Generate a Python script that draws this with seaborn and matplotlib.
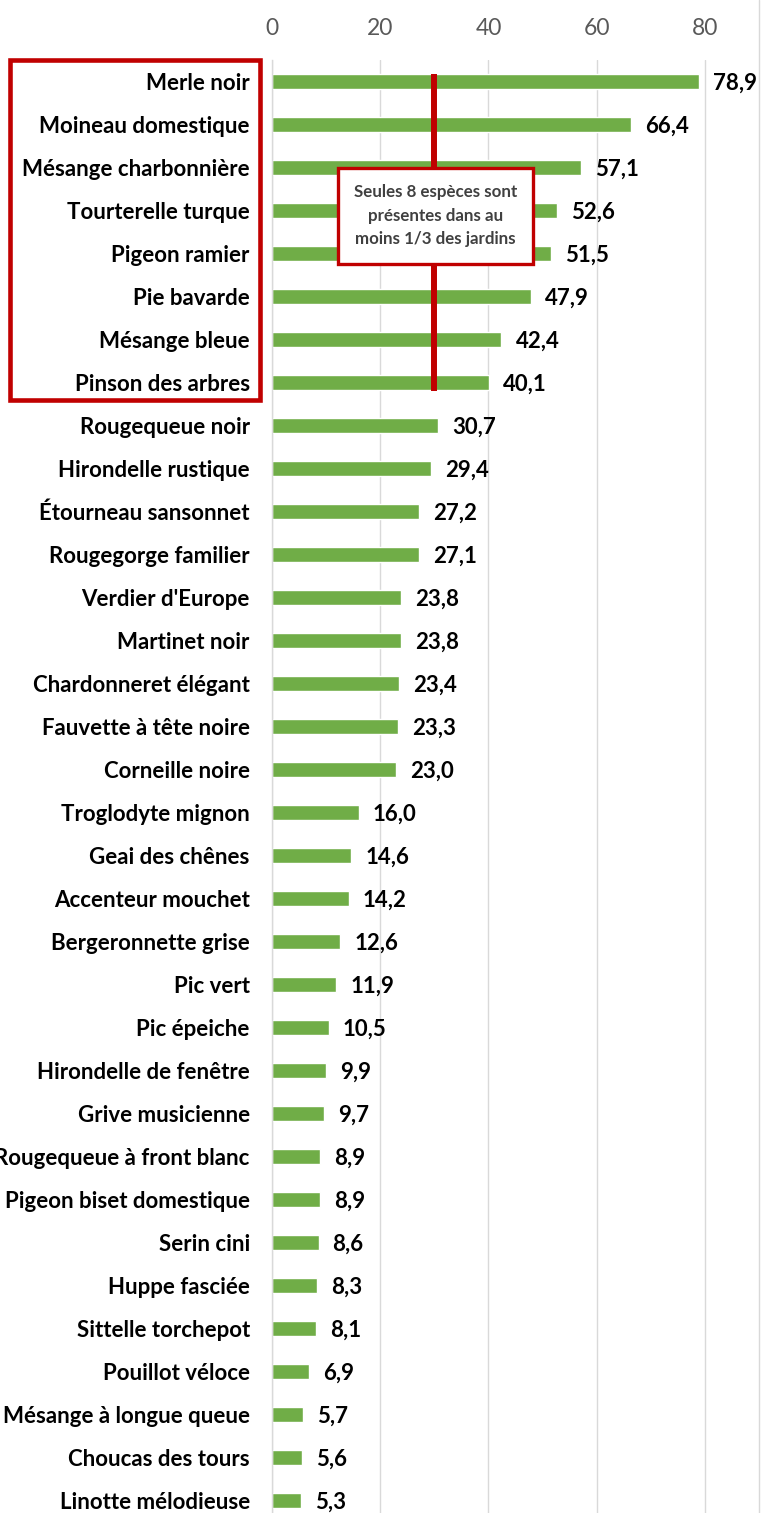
import matplotlib
matplotlib.use("Agg")
import matplotlib.pyplot as plt
from matplotlib.patches import Rectangle
from matplotlib.lines import Line2D
import seaborn as sns
import pandas as pd

species = ["Merle noir", "Moineau domestique", "Mésange charbonnière", "Tourterelle turque",
           "Pigeon ramier", "Pie bavarde", "Mésange bleue", "Pinson des arbres",
           "Rougequeue noir", "Hirondelle rustique", "Étourneau sansonnet", "Rougegorge familier",
           "Verdier d'Europe", "Martinet noir", "Chardonneret élégant", "Fauvette à tête noire",
           "Corneille noire", "Troglodyte mignon", "Geai des chênes", "Accenteur mouchet",
           "Bergeronnette grise", "Pic vert", "Pic épeiche", "Hirondelle de fenêtre",
           "Grive musicienne", "Rougequeue à front blanc", "Pigeon biset domestique", "Serin cini",
           "Huppe fasciée", "Sittelle torchepot", "Pouillot véloce", "Mésange à longue queue",
           "Choucas des tours", "Linotte mélodieuse"]
values = [78.9, 66.4, 57.1, 52.6, 51.5, 47.9, 42.4, 40.1, 30.7, 29.4, 27.2, 27.1,
          23.8, 23.8, 23.4, 23.3, 23.0, 16.0, 14.6, 14.2, 12.6, 11.9, 10.5, 9.9,
          9.7, 8.9, 8.9, 8.6, 8.3, 8.1, 6.9, 5.7, 5.6, 5.3]
x_ticks = [0, 20, 40, 60, 80]
threshold = 30
note = "Seules 8 espèces sont\nprésentes dans au\nmoins 1/3 des jardins"

df = pd.DataFrame({"espece": species, "pct": values})

sns.set_theme(style="white")
plt.rcParams["font.family"] = ["Lato", "DejaVu Sans"]

W, H = 761, 1513
fig = plt.figure(figsize=(W / 100, H / 100), dpi=100)
left, right, top, bottom = 272, 759, 60, 1513
ax = fig.add_axes([left / W, 1 - bottom / H, (right - left) / W, (bottom - top) / H])

sns.barplot(data=df, x="pct", y="espece", orient="h", color="#70AD47",
            width=0.35, ax=ax, saturation=1)

ax.set_xlim(0, 90)
ax.set_ylim(33.3, -0.5)
ax.set_xlabel("")
ax.set_ylabel("")
ax.xaxis.tick_top()
ax.set_xticks(x_ticks)
ax.tick_params(axis="x", length=0, pad=15, labelsize=16.5, labelcolor="#595959")
ax.tick_params(axis="y", length=0, pad=16, labelsize=16)
for lbl in ax.get_yticklabels():
    lbl.set_fontweight("bold")
    lbl.set_color("black")
ax.grid(axis="x", color="#D9D9D9", linewidth=1)
ax.set_axisbelow(True)
for s in ["top", "right", "bottom"]:
    ax.spines[s].set_visible(False)
ax.spines["left"].set_color("#D9D9D9")
ax.spines["left"].set_linewidth(1)

for i, v in enumerate(values):
    ax.text(v + 2.6, i + 0.05, f"{v:.1f}".replace(".", ","), va="center", ha="left",
            fontsize=16, fontweight="bold", color="black", clip_on=False)

# threshold line
ax.plot([threshold, threshold], [-0.17, 7.2], color="#C00000", linewidth=4.3,
        solid_capstyle="butt", zorder=3)

# annotation box
ax.text(30.2, 3.12, note, ha="center", va="center", fontsize=12.2, fontweight="bold",
        color="#404040", linespacing=1.6, zorder=5,
        bbox=dict(boxstyle="square,pad=0.95", facecolor="white", edgecolor="#C00000",
                  linewidth=2.4))

# red box around top-8 labels
fig.add_artist(Rectangle((10 / W, 1 - 400 / H), 250 / W, 340 / H, fill=False,
                         edgecolor="#C00000", linewidth=3.3, transform=fig.transFigure))
# right chart border
fig.add_artist(Line2D([758.5 / W, 758.5 / W], [0, 1], color="#D9D9D9", linewidth=1,
                      transform=fig.transFigure))

fig.savefig("out.png", dpi=100)
